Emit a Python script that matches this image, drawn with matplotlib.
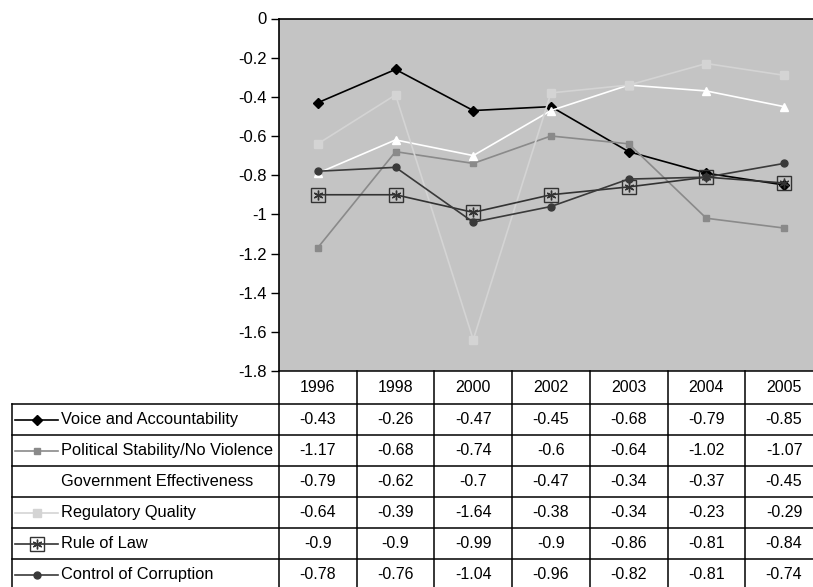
import matplotlib
matplotlib.use("Agg")
import matplotlib.pyplot as plt

plt.rcParams['font.family'] = ['Liberation Sans', 'DejaVu Sans']

# === Datos ===
years = ['1996', '1998', '2000', '2002', '2003', '2004', '2005']
voice = [-0.43, -0.26, -0.47, -0.45, -0.68, -0.79, -0.85]
polstab = [-1.17, -0.68, -0.74, -0.6, -0.64, -1.02, -1.07]
goveff = [-0.79, -0.62, -0.7, -0.47, -0.34, -0.37, -0.45]
regqual = [-0.64, -0.39, -1.64, -0.38, -0.34, -0.23, -0.29]
rulelaw = [-0.9, -0.9, -0.99, -0.9, -0.86, -0.81, -0.84]
corrupt = [-0.78, -0.76, -1.04, -0.96, -0.82, -0.81, -0.74]

names = ['Voice and Accountability', 'Political Stability/No Violence',
         'Government Effectiveness', 'Regulatory Quality', 'Rule of Law',
         'Control of Corruption']
series = [voice, polstab, goveff, regqual, rulelaw, corrupt]

# estilo de cada serie: color, marcador, tamaño
styles = [
    dict(color='black', marker='D', ms=5),
    dict(color='#8a8a8a', marker='s', ms=5),
    dict(color='white', marker='^', ms=6),
    dict(color='#d4d4d4', marker='s', ms=6),
    dict(color='#333333', marker='s', ms=10, mfc='none'),
    dict(color='#3a3a3a', marker='o', ms=5),
]

W, H = 813, 587
fig = plt.figure(figsize=(W / 100, H / 100), dpi=100)

# geometría en pixeles
x0 = 279.0
colw = 77.7
ytop, ybot = 18.5, 371.0

def fx(px):
    return px / W

def fy(py):
    return 1 - py / H

ax = fig.add_axes([fx(x0), fy(ybot), 7 * colw / W, (ybot - ytop) / H])
ax.set_facecolor('#c4c4c4')
xs = list(range(len(years)))
for vals, st in zip(series, styles):
    ax.plot(xs, vals, lw=1.2, color=st['color'], marker=st['marker'],
            ms=st['ms'], mfc=st.get('mfc', st['color']), mec=st['color'], mew=1)
# asterisco dentro del cuadro de Rule of Law
ax.plot(xs, rulelaw, ls='none', marker=(6, 2, 0), ms=7, color='#333333', mew=1)

ax.set_xlim(-0.5, 6.5)
ax.set_ylim(-1.8, 0)
ax.set_yticks([0, -0.2, -0.4, -0.6, -0.8, -1, -1.2, -1.4, -1.6, -1.8])
ax.set_yticklabels(['0', '-0.2', '-0.4', '-0.6', '-0.8', '-1', '-1.2', '-1.4', '-1.6', '-1.8'])
ax.set_xticks([])
ax.tick_params(axis='y', length=6, width=1, labelsize=12, pad=3, colors='black')
for s in ['right', 'bottom']:
    ax.spines[s].set_visible(False)
ax.spines['left'].set_linewidth(1.2)
ax.spines['top'].set_linewidth(1.2)

# === Tabla de datos ===
tb = fig.add_axes([0, 0, 1, 1])
tb.set_xlim(0, W)
tb.set_ylim(H, 0)
tb.axis('off')
tb.patch.set_alpha(0)

lab_x0 = 12
hdr_top = ybot
row_top = 404
rowh = 31
nrows = len(names)
right = x0 + 7 * colw
bottom = row_top + nrows * rowh
lk = dict(color='black', lw=1.1)

# lineas horizontales
tb.plot([x0, right], [hdr_top, hdr_top], **lk)
for i in range(nrows + 1):
    y = row_top + i * rowh
    tb.plot([lab_x0, right], [y, y], **lk)
# lineas verticales
tb.plot([lab_x0, lab_x0], [row_top, bottom], **lk)
for j in range(len(years) + 1):
    x = x0 + j * colw
    tb.plot([x, x], [hdr_top, bottom], **lk)

for j, yr in enumerate(years):
    tb.text(x0 + (j + 0.5) * colw, (hdr_top + row_top) / 2, yr,
            ha='center', va='center', fontsize=11.5)

for i, (nm, vals, st) in enumerate(zip(names, series, styles)):
    yc = row_top + (i + 0.5) * rowh
    tb.plot([15, 58], [yc, yc], lw=1.2, color=st['color'], marker=None)
    tb.plot([36.5], [yc], ls='none', marker=st['marker'], ms=st['ms'],
            color=st['color'], mfc=st.get('mfc', st['color']), mew=1)
    if nm == 'Rule of Law':
        tb.plot([36.5], [yc], ls='none', marker=(6, 2, 0), ms=7, color='#333333')
    tb.text(61, yc, nm, ha='left', va='center', fontsize=11.8)
    for j, v in enumerate(vals):
        tb.text(x0 + (j + 0.5) * colw, yc, str(v), ha='center', va='center', fontsize=11.5)

fig.savefig('out.png', dpi=100)
